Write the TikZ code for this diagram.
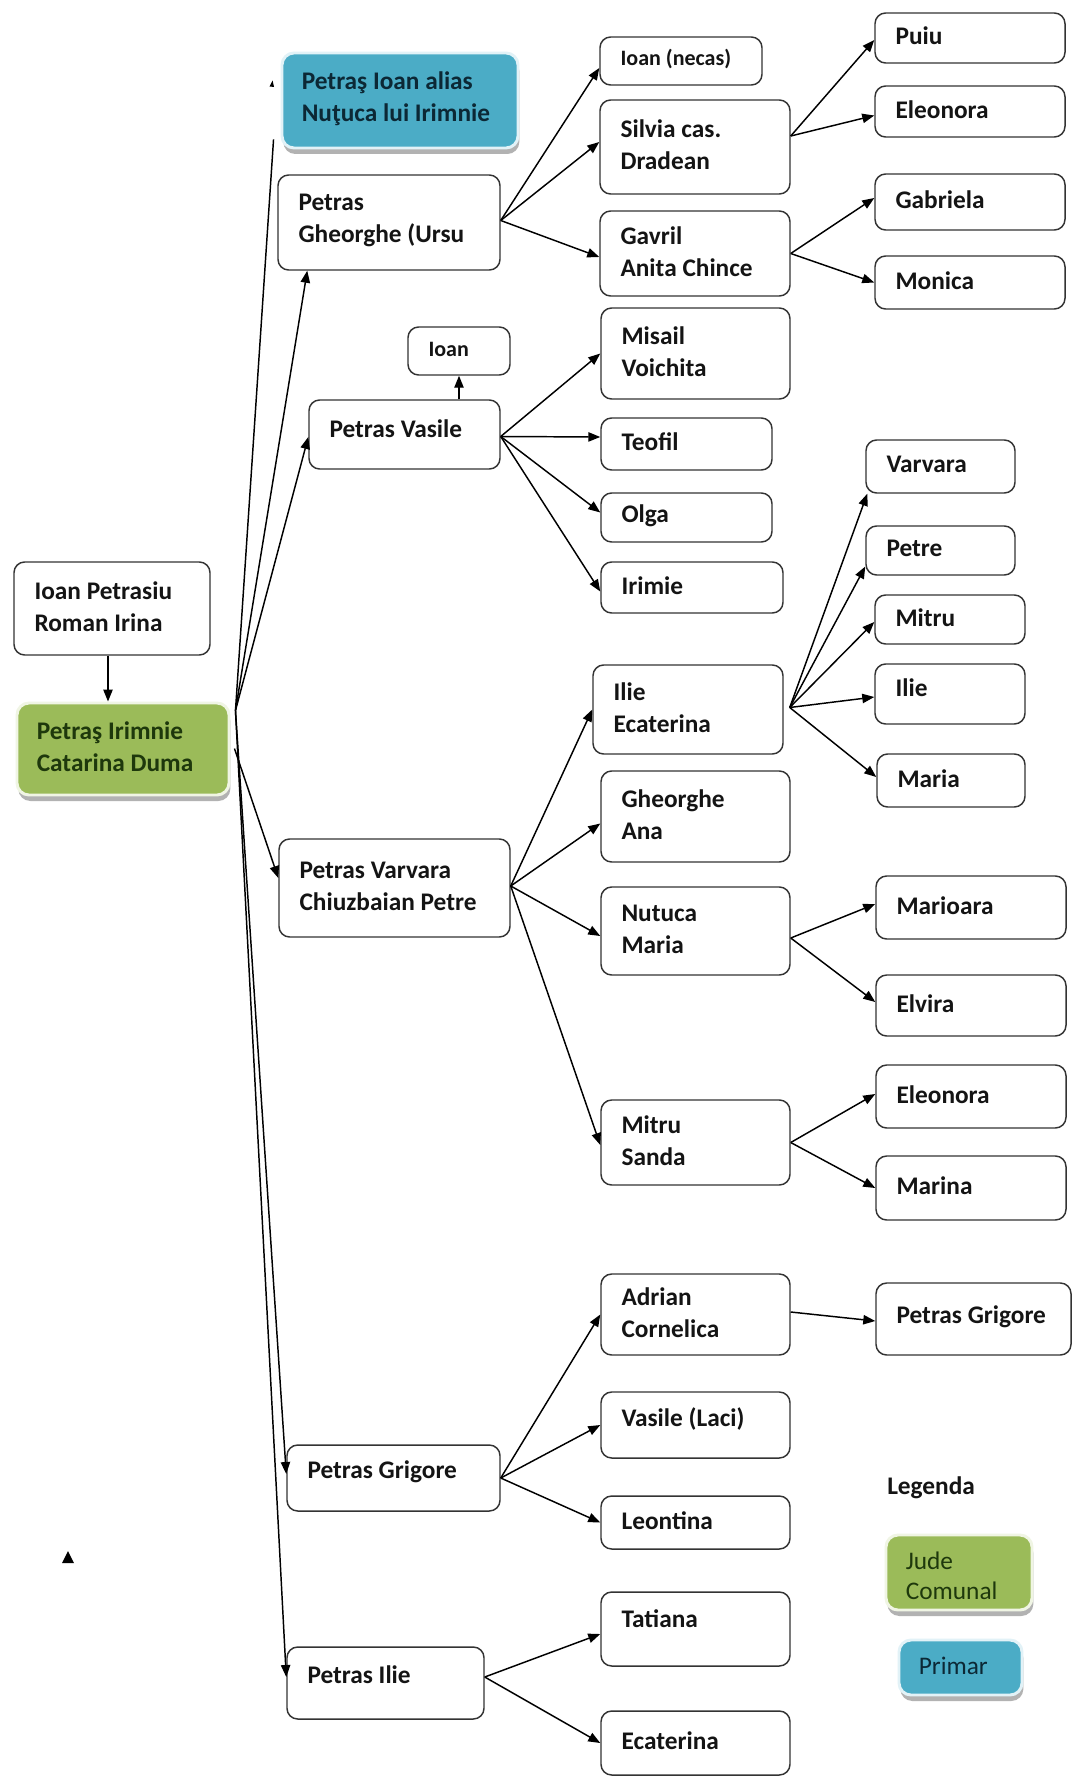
\documentclass[tikz,border=0pt]{standalone}
\usepackage{fontspec}
\setmainfont{Carlito}
\usetikzlibrary{arrows.meta,calc,shadows}
\definecolor{boxline}{HTML}{333333}
\definecolor{grn}{HTML}{9BBB59}
\definecolor{grnrim}{HTML}{F0F5E4}
\definecolor{grntext}{HTML}{1E380C}
\definecolor{blu}{HTML}{4BACC6}
\definecolor{blurim}{HTML}{E2F2F7}
\definecolor{blutext}{HTML}{0C2835}
\tikzset{
  box/.style={draw=boxline, line width=1.1pt, rounded corners=8pt, fill=white, inner sep=0pt},
  gbox/.style={fill=grn, draw=grnrim, line width=2.2pt, rounded corners=9pt,
    drop shadow={shadow xshift=1pt, shadow yshift=-4.5pt, fill=black!55, opacity=0.55}},
  bbox/.style={fill=blu, draw=blurim, line width=2.2pt, rounded corners=9pt,
    drop shadow={shadow xshift=1pt, shadow yshift=-4.5pt, fill=black!55, opacity=0.55}},
  lbl/.style={anchor=west, align=left, inner sep=0pt, text=black!92,
    font=\bfseries\fontsize{19}{24}\selectfont},
  small/.style={font=\bfseries\fontsize{16.5}{20}\selectfont},
  gtext/.style={text=grntext},
  btext/.style={text=blutext},
  arr/.style={-{Triangle[length=9pt,width=7pt]}, line width=1.1pt, black},
  plain/.style={line width=1.1pt, black},
}
\newcommand\mybox[8][]{%
  \pgfmathsetmacro\mbw{(#5-#3)*0.75}%
  \pgfmathsetmacro\mbh{(#6-#4)*0.75}%
  \node[box,minimum width=\mbw pt,minimum height=\mbh pt,#1] (#2) at ({(#3+#5)/2},{(#4+#6)/2}) {};%
  \node[lbl,#7] (#2-t) at ($(#2.west)+(21,-2)$) {#8};%
}
\begin{document}
\begin{tikzpicture}[x=0.75pt,y=-0.75pt]
\useasboundingbox (0,0) rectangle (1072,1776);
\fill[white] (0,0) rectangle (1072,1776);

% boxes
\mybox[bbox]{pioan}{282}{53}{518}{148}{btext}{Petraş Ioan alias\\Nuţuca lui Irimnie}
\mybox{ghe}{278}{175}{500}{270}{}{Petras\\Gheorghe (Ursu}
\mybox{necas}{600}{37}{762}{85}{small}{Ioan (necas)}
\mybox{silvia}{600}{100}{790}{194}{}{Silvia cas.\\Dradean}
\mybox{gavril}{600}{211}{790}{296}{}{Gavril\\Anita Chince}
\mybox{puiu}{875}{13}{1065}{63}{}{Puiu}
\mybox{eleoa}{875}{86}{1065}{137}{}{Eleonora}
\mybox{gabr}{875}{174}{1065}{230}{}{Gabriela}
\mybox{moni}{875}{256}{1065}{309}{}{Monica}
\mybox{ioansm}{408}{327}{510}{375}{small}{Ioan}
\mybox{vasile}{309}{400}{500}{469}{yshift=3pt}{Petras Vasile}
\mybox{misail}{601}{308}{790}{399}{}{Misail\\Voichita}
\mybox{teofil}{601}{418}{772}{470}{}{Teofil}
\mybox{olga}{601}{493}{772}{542}{}{Olga}
\mybox{irimie}{601}{562}{783}{613}{}{Irimie}
\mybox{parents}{14}{562}{210}{655}{}{Ioan Petrasiu\\Roman Irina}
\mybox[gbox]{root}{17}{703}{229}{795}{gtext}{Petraş Irimnie\\Catarina Duma}
\mybox{varvara}{279}{839}{510}{937}{}{Petras Varvara\\Chiuzbaian Petre}
\mybox{ilie}{593}{665}{783}{754}{}{Ilie\\Ecaterina}
\mybox{gheana}{601}{771}{790}{862}{}{Gheorghe\\Ana}
\mybox{nutuca}{601}{887}{790}{975}{}{Nutuca\\Maria}
\mybox{mitsan}{601}{1100}{790}{1185}{}{Mitru\\Sanda}
\mybox{varvb}{866}{440}{1015}{493}{}{Varvara}
\mybox{petre}{866}{526}{1015}{575}{}{Petre}
\mybox{mitru}{875}{595}{1025}{644}{}{Mitru}
\mybox{ilieb}{875}{664}{1025}{724}{yshift=3pt}{Ilie}
\mybox{maria}{877}{754}{1025}{807}{}{Maria}
\mybox{mario}{876}{876}{1066}{939}{}{Marioara}
\mybox{elvira}{876}{975}{1066}{1036}{}{Elvira}
\mybox{eleob}{876}{1065}{1066}{1128}{}{Eleonora}
\mybox{marina}{876}{1156}{1066}{1220}{}{Marina}
\mybox{adrian}{601}{1274}{790}{1355}{}{Adrian\\Cornelica}
\mybox{pgr}{876}{1283}{1071}{1355}{}{Petras Grigore}
\mybox{grig}{287}{1445}{500}{1511}{yshift=3pt}{Petras Grigore}
\mybox{laci}{601}{1392}{790}{1458}{yshift=3pt}{Vasile (Laci)}
\mybox{leon}{601}{1496}{790}{1549}{}{Leontina}
\mybox{pilie}{287}{1647}{484}{1719}{yshift=5pt}{Petras Ilie}
\mybox{tati}{601}{1592}{790}{1666}{yshift=6pt}{Tatiana}
\mybox{ecat}{601}{1711}{790}{1775}{}{Ecaterina}

% legend
\node[lbl, anchor=west] (legtitle) at (887,1488) {Legenda};
\mybox[gbox]{legg}{886}{1535}{1032}{1610}{gtext,yshift=-4pt,font=\fontsize{19}{23}\selectfont}{Jude\\Comunal}
\mybox[bbox]{legb}{899}{1640}{1022}{1695}{btext,font=\fontsize{19}{23}\selectfont}{Primar}

% fan from root
\coordinate (fanU) at ($(root.north east)+(5,9)$);
\coordinate (fanD) at ($(root.north east)+(4,47)$);
\draw[plain] (fanU) -- ($(pioan.south west)+(-7,-10)$);
\draw[arr] (fanU) -- ($(ghe.south west)+(30,0)$);
\draw[arr] (fanU) -- ($(vasile.west)+(0,2.5)$);
\draw[arr] (fanD) -- ($(varvara.west)+(0,-10)$);
\draw[arr] (fanU) -- ($(grig.west)+(0,-4)$);
\draw[arr] (fanU) -- ($(pilie.west)+(0,-6)$);
\coordinate (tipA) at ($(pioan.west)+(-8,-20)$);
\fill (tipA) -- ++(-3,6) -- ++(4.5,0.5) -- cycle;

% parents -> root
\draw[arr] ($(parents.south)+(-4,0)$) -- ($(parents.south |- root.north)+(-4,0)$);

% Gheorghe
\coordinate (gheO) at ($(ghe.east)+(0,-2)$);
\draw[arr] (gheO) -- ($(necas.west)+(0,7)$);
\draw[arr] (gheO) -- ($(silvia.west)+(0,-5)$);
\draw[arr] (gheO) -- ($(gavril.west)+(0,3.5)$);
\coordinate (silO) at ($(silvia.east)+(0,-11)$);
\draw[arr] (silO) -- ($(puiu.west)+(0,2)$);
\draw[arr] (silO) -- ($(eleoa.west)+(0,4)$);
\draw[arr] (gavril.east) -- ($(gabr.west)+(0,-4)$);
\draw[arr] (gavril.east) -- (moni.west);

% Vasile
\coordinate (vasO) at ($(vasile.east)+(0,2)$);
\draw[arr] (ioansm.south |- vasile.north) -- (ioansm.south);
\draw[arr] (vasO) -- (misail.west);
\draw[arr] (vasO) -- ($(teofil.west)+(0,-7)$);
\draw[arr] (vasO) -- ($(olga.west)+(0,-5)$);
\draw[arr] (vasO) -- ($(irimie.west)+(0,4)$);

% Varvara
\coordinate (varO) at ($(varvara.east)+(0,-2)$);
\draw[arr] (varO) -- (ilie.west);
\draw[arr] (varO) -- ($(gheana.west)+(0,7)$);
\draw[arr] (varO) -- ($(nutuca.west)+(0,5)$);
\draw[arr] (varO) -- ($(mitsan.west)+(0,2.5)$);
\coordinate (ilO) at ($(ilie.east)+(6,-2)$);
\draw[arr] (ilO) -- ($(varvb.south west)+(2,0)$);
\draw[arr] (ilO) -- ($(petre.west)+(0,16)$);
\draw[arr] (ilO) -- ($(mitru.west)+(0,2.5)$);
\draw[arr] (ilO) -- ($(ilieb.west)+(0,3)$);
\draw[arr] (ilO) -- ($(maria.west)+(0,-3.5)$);
\coordinate (nuO) at ($(nutuca.east)+(0,7)$);
\draw[arr] (nuO) -- ($(mario.west)+(0,-3.5)$);
\draw[arr] (nuO) -- ($(elvira.west)+(0,-3.5)$);
\draw[arr] (mitsan.east) -- ($(eleob.west)+(0,-2.5)$);
\draw[arr] (mitsan.east) -- (marina.west);

% Grigore
\draw[arr] ($(adrian.east)+(0,-2.5)$) -- ($(pgr.west)+(0,2)$);
\draw[arr] (grig.east) -- (adrian.west);
\draw[arr] (grig.east) -- (laci.west);
\draw[arr] (grig.east) -- (leon.west);

% Ilie
\coordinate (piO) at ($(pilie.east)+(0,-6)$);
\draw[arr] (piO) -- ($(tati.west)+(0,5)$);
\draw[arr] (piO) -- (ecat.west);

% stray arrowhead
\fill (62,1563) -- (74,1563) -- (68,1551) -- cycle;
\end{tikzpicture}
\end{document}
